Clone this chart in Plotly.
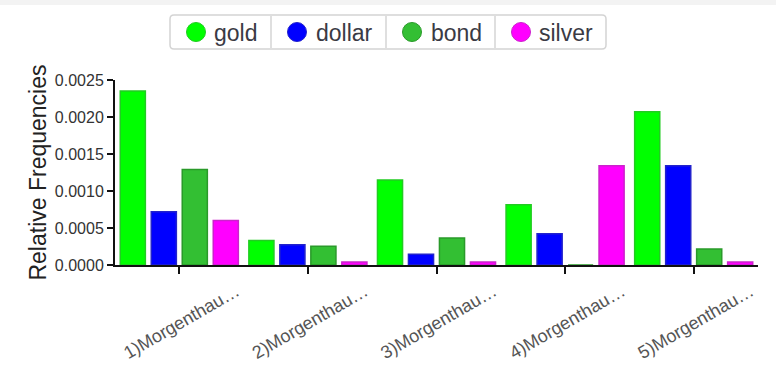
import plotly.graph_objects as go

categories = ["1)Morgenthau…", "2)Morgenthau…", "3)Morgenthau…", "4)Morgenthau…", "5)Morgenthau…"]
series_names = ["gold", "dollar", "bond", "silver"]
gold = [0.00235, 0.00033, 0.00115, 0.000815, 0.00207]
dollar = [0.00072, 0.000275, 0.000144, 0.000423, 0.00134]
bond = [0.00129, 0.000253, 0.000365, 0.0, 0.000216]
silver = [0.0006, 0.00004, 0.00004, 0.00134, 0.00004]
y_ticks = [0.0, 0.0005, 0.0010, 0.0015, 0.0020, 0.0025]

series_values = [gold, dollar, bond, silver]
fills = ["#00ff00", "#0000ff", "#33bf33", "#ff00ff"]
borders = ["#22cc22", "#2222cc", "#2a9a2a", "#cc22cc"]

W, H = 776, 367
L, R, T, B = 115, 18, 80, 102
PW, PH = W - L - R, H - T - B


def px(x):
    return (x - L) / PW


def py(y):
    return (H - B - y) / PH


fig = go.Figure()
for name, vals, fc, bc in zip(series_names, series_values, fills, borders):
    fig.add_trace(go.Bar(x=categories, y=vals, name=name, showlegend=False,
                         marker=dict(color=fc, line=dict(color=bc, width=1.5))))

# custom legend (box with separators, circle swatches, labels)
shapes = [dict(type="rect", xref="paper", yref="paper",
               x0=px(-10), x1=px(W + 10), y0=py(5), y1=py(-2),
               fillcolor="#f3f3f3", line=dict(width=0), layer="below")]
bx0, bx1, by0, by1, rr = 170, 606, 15, 49, 4
path = (f"M{px(bx0 + rr)},{py(by0)} L{px(bx1 - rr)},{py(by0)} "
        f"Q{px(bx1)},{py(by0)} {px(bx1)},{py(by0 + rr)} "
        f"L{px(bx1)},{py(by1 - rr)} Q{px(bx1)},{py(by1)} {px(bx1 - rr)},{py(by1)} "
        f"L{px(bx0 + rr)},{py(by1)} Q{px(bx0)},{py(by1)} {px(bx0)},{py(by1 - rr)} "
        f"L{px(bx0)},{py(by0 + rr)} Q{px(bx0)},{py(by0)} {px(bx0 + rr)},{py(by0)} Z")
shapes.append(dict(type="path", xref="paper", yref="paper", path=path,
                   line=dict(color="#d4d4d4", width=1.5), fillcolor="white"))
for sx in [271, 386, 495]:
    shapes.append(dict(type="line", xref="paper", yref="paper",
                       x0=px(sx), x1=px(sx), y0=py(by0 + 1), y1=py(by1 - 1),
                       line=dict(color="#d4d4d4", width=1.5)))
annotations = []
circle_cx = [196, 297, 412, 521]
text_x = [212, 314, 429, 537]
cy, rad = 32, 9.5
for name, fc, bc, cx, tx in zip(series_names, fills, borders, circle_cx, text_x):
    shapes.append(dict(type="circle", xref="paper", yref="paper",
                       x0=px(cx - rad), x1=px(cx + rad), y0=py(cy + rad), y1=py(cy - rad),
                       fillcolor=fc, line=dict(color=bc, width=1)))
    annotations.append(dict(text=name, xref="paper", yref="paper", x=px(tx), y=py(cy + 1),
                            xanchor="left", yanchor="middle", showarrow=False,
                            font=dict(size=23, color="#3a3a44")))

fig.update_layout(
    width=W, height=H,
    margin=dict(l=L, r=R, t=T, b=B, autoexpand=False),
    paper_bgcolor="white", plot_bgcolor="white",
    barmode="group", bargap=0.036, bargroupgap=0.19,
    font=dict(family="Liberation Sans, Arial, sans-serif", color="#333"),
    showlegend=False,
    xaxis=dict(type="category", categoryorder="array", categoryarray=categories,
               showline=True, linecolor="#111", linewidth=2, automargin=False,
               ticks="outside", ticklen=7, tickwidth=2, tickcolor="#111",
               tickangle=-30, ticklabelshift=57, ticklabelstandoff=0,
               tickfont=dict(size=18, color="#555"), showgrid=False),
    yaxis=dict(range=[0, 0.0025], tickvals=y_ticks, tickformat=".4f",
               showline=True, linecolor="#111", linewidth=2, automargin=False,
               ticks="outside", ticklen=6, tickwidth=2, tickcolor="#111",
               tickfont=dict(size=16, color="#333"), showgrid=False, zeroline=False,
               title=dict(text="Relative Frequencies", font=dict(size=23, color="#222"),
                          standoff=2)),
    shapes=shapes,
    annotations=annotations,
)

fig.write_html("out.html", config={"displayModeBar": False},
               post_script="document.body.style.margin='0';document.body.style.padding='0';")
